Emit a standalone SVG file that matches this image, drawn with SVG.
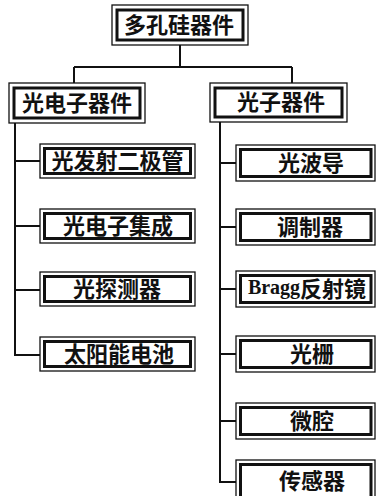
<svg xmlns="http://www.w3.org/2000/svg" width="376" height="496" viewBox="0 0 376 496">
<style>
.outer{fill:#fff;stroke:#111;stroke-width:1.3}
.inner{fill:none;stroke:#111;stroke-width:3}
.t{font-family:"Noto Sans CJK SC","Noto Sans CJK JP",sans-serif;font-weight:bold;font-size:22px;text-anchor:middle;dominant-baseline:central;fill:#111}
.lat{font-family:"Liberation Serif",serif;font-weight:bold;font-size:20px}
.conn{fill:none;stroke:#111;stroke-width:2}
</style>
<rect width="376" height="496" fill="#fff"/>
<g id="connectors">
<path class="conn" d="M180 45V67M74 67H292M74 67V83M292 67V83M15 123V355H40M15 161H40M15 226H40M15 290H40M220 122V482H236M220 163H236M220 227H236M220 289H236M220 354H236M220 421H236"/>
</g>
<g id="root">
<rect class="outer" x="112" y="5" width="136" height="40"/>
<rect class="inner" x="117" y="10" width="126" height="30"/>
<text class="t" x="179" y="22.5">多孔硅器件</text>
</g>
<g id="optoelectronic">
<rect class="outer" x="9" y="83" width="136" height="40"/>
<rect class="inner" x="14" y="88" width="126" height="30"/>
<text class="t" x="77" y="100.5">光电子器件</text>
</g>
<g id="photonic">
<rect class="outer" x="210" y="83" width="137" height="39"/>
<rect class="inner" x="215" y="88" width="127" height="29"/>
<text class="t" x="281" y="100">光子器件</text>
</g>
<g id="led">
<rect class="outer" x="40" y="144" width="155" height="34"/>
<rect class="inner" x="44.5" y="148.5" width="146" height="25"/>
<text class="t" x="117.5" y="158.5">光发射二极管</text>
</g>
<g id="oeic">
<rect class="outer" x="40" y="209" width="155" height="34"/>
<rect class="inner" x="44.5" y="213.5" width="146" height="25"/>
<text class="t" x="118" y="223.5">光电子集成</text>
</g>
<g id="photodetector">
<rect class="outer" x="40" y="272" width="155" height="34"/>
<rect class="inner" x="44.5" y="276.5" width="146" height="25"/>
<text class="t" x="117" y="286.5">光探测器</text>
</g>
<g id="solarcell">
<rect class="outer" x="40" y="337" width="155" height="34"/>
<rect class="inner" x="44.5" y="341.5" width="146" height="25"/>
<text class="t" x="119" y="351.5">太阳能电池</text>
</g>
<g id="waveguide">
<rect class="outer" x="236" y="145" width="139" height="36"/>
<rect class="inner" x="240.5" y="149.5" width="130.5" height="27"/>
<text class="t" x="311" y="160.5">光波导</text>
</g>
<g id="modulator">
<rect class="outer" x="236" y="209" width="139" height="36"/>
<rect class="inner" x="240.5" y="213.5" width="130.5" height="27"/>
<text class="t" x="310" y="224.5">调制器</text>
</g>
<g id="bragg">
<rect class="outer" x="236" y="271" width="139" height="36"/>
<rect class="inner" x="240.5" y="275.5" width="130.5" height="27"/>
<text class="t" x="307" y="286.5"><tspan class="lat">Bragg</tspan>反射镜</text>
</g>
<g id="grating">
<rect class="outer" x="236" y="336" width="139" height="36"/>
<rect class="inner" x="240.5" y="340.5" width="130.5" height="27"/>
<text class="t" x="312" y="351.5">光栅</text>
</g>
<g id="microcavity">
<rect class="outer" x="236" y="403" width="139" height="36"/>
<rect class="inner" x="240.5" y="407.5" width="130.5" height="27"/>
<text class="t" x="312" y="418.5">微腔</text>
</g>
<g id="sensor">
<rect class="outer" x="236" y="460" width="139" height="40"/>
<rect class="inner" x="240.5" y="464.5" width="130.5" height="34"/>
<text class="t" x="312" y="479">传感器</text>
</g>
</svg>
